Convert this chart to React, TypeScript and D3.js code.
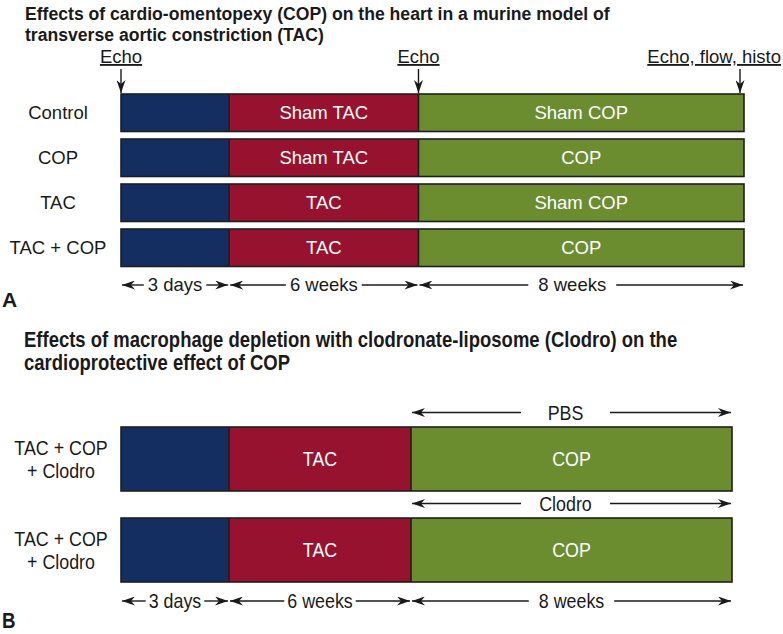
import React, { useEffect, useRef } from "react";
import * as d3 from "d3";

// ---------- data ----------
const TITLE_A = [
  "Effects of cardio-omentopexy (COP) on the heart in a murine model of",
  "transverse aortic constriction (TAC)",
];
const TITLE_B = [
  "Effects of macrophage depletion with clodronate-liposome (Clodro) on the",
  "cardioprotective effect of COP",
];
const PHASES = ["3 days", "6 weeks", "8 weeks"];
const PHASE_UNITS_A = [108, 189, 325]; // drawn (schematic) widths of phases
const PHASE_UNITS_B = [108, 182, 321];
const GROUPS_A = ["Control", "COP", "TAC", "TAC + COP"];
const SEGMENTS_A = [
  ["", "Sham TAC", "Sham COP"],
  ["", "Sham TAC", "COP"],
  ["", "TAC", "Sham COP"],
  ["", "TAC", "COP"],
];
const ECHO_LABELS = ["Echo", "Echo", "Echo, flow, histo"];
const ECHO_AT = [0, 2, 3]; // phase boundary index
const GROUPS_B = [
  ["TAC + COP", "+ Clodro"],
  ["TAC + COP", "+ Clodro"],
];
const SEGMENTS_B = [
  ["", "TAC", "COP"],
  ["", "TAC", "COP"],
];
const TREATMENTS_B = ["PBS", "Clodro"];
const PHASE_COLORS = ["#142e62", "#97122e", "#6b8d2f"];

const FONT = "'Liberation Sans', Arial, Helvetica, sans-serif";
const NARROW_K = 0.85; // horizontal compression for panel B's condensed type
const INK = "#1a1a1a";

type G = d3.Selection<SVGGElement, unknown, null, undefined>;

export default function App() {
  const ref = useRef<SVGSVGElement>(null);

  useEffect(() => {
    const svg = d3.select(ref.current);
    svg.selectAll("*").remove();

    const defs = svg.append("defs");
    defs
      .append("marker")
      .attr("id", "ah")
      .attr("viewBox", "0 0 13 9")
      .attr("refX", 13)
      .attr("refY", 4.5)
      .attr("markerWidth", 13)
      .attr("markerHeight", 9)
      .attr("markerUnits", "userSpaceOnUse")
      .attr("orient", "auto-start-reverse")
      .append("path")
      .attr("d", "M0,0 L13,4.5 L0,9 L4,4.5 Z")
      .attr("fill", INK);

    const cum = (u: number[]) => {
      const out = [0];
      u.forEach((v) => out.push(out[out.length - 1] + v));
      return out;
    };

    // text helper: k = horizontal compression (1 = normal)
    const txt = (
      g: G,
      x: number,
      y: number,
      s: string,
      size: number,
      opts: { k?: number; anchor?: string; bold?: boolean; fill?: string; mid?: boolean; underline?: boolean } = {}
    ) => {
      const k = opts.k ?? 1;
      const t = g
        .append("text")
        .attr("transform", `translate(${x},${y}) scale(${k},1)`)
        .attr("x", 0)
        .attr("y", 0)
        .attr("dy", opts.mid ? "0.35em" : null)
        .attr("text-anchor", opts.anchor ?? "start")
        .attr("font-family", FONT)
        .attr("font-weight", opts.bold ? "bold" : "normal")
        .attr("font-size", size)
        .attr("fill", opts.fill ?? INK)
        .attr("text-decoration", opts.underline ? "underline" : null)
        .text(s);
      return (t.node() as SVGTextElement).getComputedTextLength() * k;
    };

    // arrowed span with label (shift moves the label off-centre)
    const span = (
      g: G,
      x0: number,
      x1: number,
      y: number,
      label: string,
      size: number,
      k: number,
      pad: number,
      minGap = 0,
      shift = 0
    ) => {
      const cx = (x0 + x1) / 2 + shift;
      const w = txt(g, cx, y, label, size, { k, anchor: "middle", mid: true });
      const half = Math.max(w / 2 + pad, minGap / 2);
      [
        [cx - half, x0 + 1],
        [cx + half, x1 - 1],
      ].forEach(([a, b]) =>
        g.append("line")
          .attr("x1", a)
          .attr("x2", b)
          .attr("y1", y)
          .attr("y2", y)
          .attr("stroke", INK)
          .attr("stroke-width", 1.4)
          .attr("marker-end", "url(#ah)")
      );
    };

    const drawBar = (
      g: G,
      x: d3.ScaleLinear<number, number>,
      b: number[],
      y0: number,
      h: number,
      labels: string[],
      size: number,
      k: number
    ) => {
      PHASES.forEach((_, p) => {
        g.append("rect")
          .attr("x", x(b[p]))
          .attr("y", y0)
          .attr("width", x(b[p + 1]) - x(b[p]))
          .attr("height", h)
          .attr("fill", PHASE_COLORS[p]);
        if (labels[p])
          txt(g, (x(b[p]) + x(b[p + 1])) / 2, y0 + h / 2, labels[p], size, {
            k,
            anchor: "middle",
            mid: true,
            fill: "#ffffff",
          });
      });
      [1, 2].forEach((p) =>
        g.append("line")
          .attr("x1", x(b[p]))
          .attr("x2", x(b[p]))
          .attr("y1", y0)
          .attr("y2", y0 + h)
          .attr("stroke", "#1e1e1e")
          .attr("stroke-width", 1.6)
      );
      g.append("rect")
        .attr("x", x(0))
        .attr("y", y0)
        .attr("width", x(b[3]) - x(0))
        .attr("height", h)
        .attr("fill", "none")
        .attr("stroke", "#1e1e1e")
        .attr("stroke-width", 1.6);
    };

    // ================= Panel A =================
    const gA = svg.append("g") as unknown as G;
    TITLE_A.forEach((s, i) => txt(gA, 25, 20 + i * 20.5, s, 17.6, { bold: true }));

    const bA = cum(PHASE_UNITS_A);
    const xA = d3.scaleLinear().domain([0, bA[bA.length - 1]]).range([121, 744]);
    const yA = d3.scaleBand().domain(GROUPS_A).range([94, 266.5]).paddingInner(0.1667).paddingOuter(0);

    ECHO_LABELS.forEach((lab, i) => {
      const last = i === ECHO_LABELS.length - 1;
      const bx = xA(bA[ECHO_AT[i]]) - (last ? 4 : 0);
      txt(gA, last ? bx + 41 : bx, 63, lab, 18.5, { anchor: last ? "end" : "middle", underline: true });
      gA.append("line")
        .attr("x1", bx)
        .attr("x2", bx)
        .attr("y1", 69)
        .attr("y2", 93)
        .attr("stroke", INK)
        .attr("stroke-width", 1.4)
        .attr("marker-end", "url(#ah)");
    });

    GROUPS_A.forEach((grp, r) => {
      const y0 = yA(grp)!;
      const h = yA.bandwidth();
      txt(gA, 58, y0 + h / 2, grp, 18.5, { anchor: "middle", mid: true });
      drawBar(gA, xA, bA, y0, h, SEGMENTS_A[r], 18.5, 1);
    });

    PHASES.forEach((ph, p) =>
      span(gA, xA(bA[p]), xA(bA[p + 1]), 285, ph, 18.5, 1, p === 2 ? 10 : 4, 0, p === 2 ? -9 : 0)
    );

    txt(gA, 2, 307, "A", 21, { bold: true });

    // ================= Panel B =================
    const gB = svg.append("g") as unknown as G;
    TITLE_B.forEach((s, i) => txt(gB, 24, 347 + i * 23, s, 21.5, { bold: true, k: 0.86 }));

    const bB = cum(PHASE_UNITS_B);
    const xB = d3.scaleLinear().domain([0, bB[bB.length - 1]]).range([121, 732]);
    const rowsB = GROUPS_B.map((_, i) => String(i));
    const yB = d3.scaleBand().domain(rowsB).range([427, 582]).paddingInner(0.297).paddingOuter(0);

    GROUPS_B.forEach((lines, r) => {
      const y0 = yB(String(r))!;
      const h = yB.bandwidth();
      span(gB, xB(bB[2]), xB(bB[3]), y0 - 14.5, TREATMENTS_B[r], 21, NARROW_K, 14, 89, -6);
      lines.forEach((ln, k) =>
        txt(gB, 61, y0 + h / 2 + (k - 0.5) * 23, ln, 21, { anchor: "middle", mid: true, k: NARROW_K })
      );
      drawBar(gB, xB, bB, y0, h, SEGMENTS_B[r], 21, NARROW_K);
    });

    PHASES.forEach((ph, p) => span(gB, xB(bB[p]), xB(bB[p + 1]), 601, ph, 21, NARROW_K, p === 2 ? 10 : 3));

    txt(gB, 2, 628, "B", 22, { bold: true, k: NARROW_K });
  }, []);

  return (
    <svg
      ref={ref}
      width={783}
      height={634}
      style={{ position: "absolute", left: 0, top: 0, background: "#ffffff" }}
    />
  );
}
